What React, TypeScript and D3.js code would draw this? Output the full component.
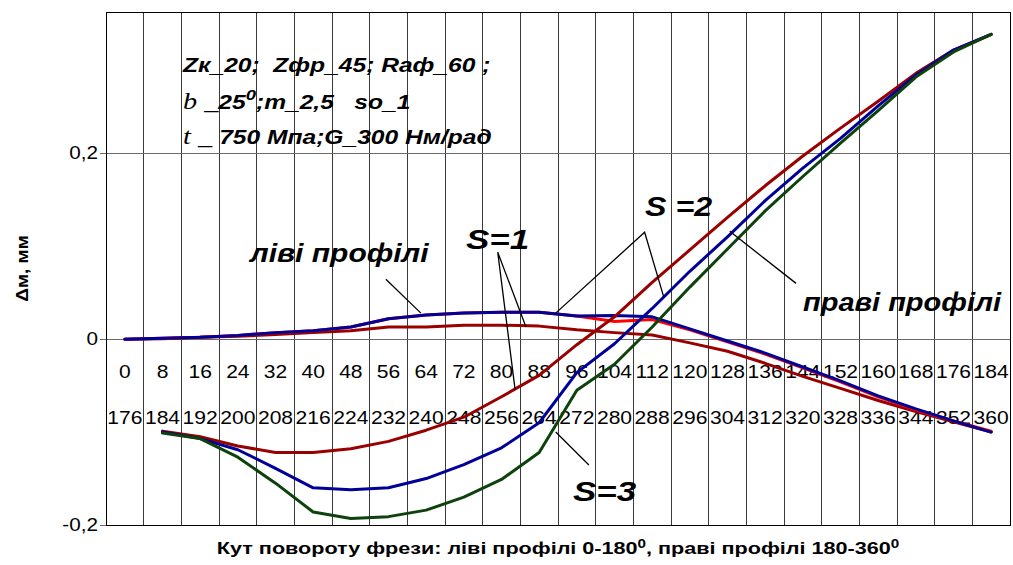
import * as d3 from "d3";
import type { ReactNode } from "react";

// x categories (upper row = left profiles, lower row = right profiles)
const topLabels = [0, 8, 16, 24, 32, 40, 48, 56, 64, 72, 80, 88, 96, 104, 112, 120, 128, 136, 144, 152, 160, 168, 176, 184];
const bottomLabels = [176, 184, 192, 200, 208, 216, 224, 232, 240, 248, 256, 264, 272, 280, 288, 296, 304, 312, 320, 328, 336, 344, 352, 360];

const yTicks = [-0.2, 0, 0.2];
const yTickLabels = ["-0,2", "0", "0,2"];

// left profiles, categories 0..184
const leftS1 = [0, 0.0005, 0.002, 0.003, 0.005, 0.007, 0.009, 0.013, 0.013, 0.015, 0.015, 0.014, 0.010, 0.007, 0.0045, -0.004, -0.013, -0.026, -0.040, -0.053, -0.066, -0.078, -0.089, -0.100];
const leftS2 = [0, 0.001, 0.002, 0.004, 0.007, 0.009, 0.013, 0.022, 0.026, 0.028, 0.029, 0.029, 0.025, 0.0255, 0.024, 0.011, -0.002, -0.015, -0.030, -0.045, -0.061, -0.075, -0.088, -0.100];
const leftS3 = [0, 0.001, 0.002, 0.004, 0.007, 0.009, 0.013, 0.022, 0.026, 0.028, 0.029, 0.029, 0.025, 0.019, 0.021, 0.010, -0.003, -0.016, -0.031, -0.046, -0.062, -0.076, -0.088, -0.099];

// right profiles, categories 8..184
const rightS1 = [-0.099, -0.105, -0.115, -0.122, -0.122, -0.118, -0.110, -0.098, -0.084, -0.062, -0.039, -0.006, 0.024, 0.061, 0.096, 0.131, 0.165, 0.197, 0.227, 0.256, 0.286, 0.311, 0.328];
const rightS2 = [-0.100, -0.107, -0.119, -0.139, -0.160, -0.162, -0.160, -0.150, -0.135, -0.117, -0.090, -0.036, -0.005, 0.033, 0.073, 0.110, 0.149, 0.184, 0.216, 0.251, 0.284, 0.311, 0.328];
const rightS3 = [-0.101, -0.107, -0.127, -0.155, -0.186, -0.193, -0.191, -0.184, -0.170, -0.151, -0.122, -0.055, -0.027, 0.013, 0.056, 0.097, 0.138, 0.175, 0.211, 0.246, 0.282, 0.309, 0.328];

const series = [
  { values: leftS1, start: 0, color: "#990000" },
  { values: leftS3, start: 0, color: "#ff0000" },
  { values: leftS2, start: 0, color: "#000099" },
  { values: rightS1, start: 1, color: "#990000" },
  { values: rightS2, start: 1, color: "#000099" },
  { values: rightS3, start: 1, color: "#0d420d" },
];

// pointer lines, [categoryIndex, value] pairs
const pointers: [number, number][][] = [
  [[6.93, 0.0645], [7.86, 0.028]],
  [[10.65, 0.013], [9.9, 0.0935], [10.36, -0.054]],
  [[11.44, 0.028], [13.8, 0.115], [14.31, 0.045]],
  [[16.06, 0.116], [17.82, 0.06]],
  [[11.44, -0.1], [12.32, -0.1355]],
];

const W = 1013;
const H = 565;
const margin = { left: 106, right: 3, top: 12, bottom: 40 };
const FONT = "'Liberation Sans', Arial, sans-serif";

// the original text is drawn wider than normal Arial, so stretch it sideways
function T(props: {
  x: number;
  y: number;
  sx?: number;
  size: number;
  anchor?: "start" | "middle" | "end";
  bold?: boolean;
  italic?: boolean;
  children: ReactNode;
}) {
  return (
    <text
      transform={`translate(${props.x},${props.y}) scale(${props.sx ?? 1.2},1)`}
      textAnchor={props.anchor ?? "start"}
      fontFamily={FONT}
      fontSize={props.size}
      fontWeight={props.bold ? "bold" : "normal"}
      fontStyle={props.italic ? "italic" : "normal"}
      xmlSpace="preserve"
    >
      {props.children}
    </text>
  );
}

export default function App() {
  const x = d3
    .scaleBand<number>()
    .domain(d3.range(topLabels.length))
    .range([margin.left, W - margin.right]);
  const bw = x.bandwidth();
  const cx = (i: number) => margin.left + bw * (i + 0.5);
  const y = d3.scaleLinear().domain([-0.2, 0.352]).range([H - margin.bottom, margin.top]);

  const x0 = margin.left;
  const x1 = W - margin.right;
  const y0 = margin.top;
  const y1 = H - margin.bottom;

  return (
    <div style={{ position: "absolute", left: 0, top: 0 }}>
      <svg width={W} height={H} style={{ display: "block", background: "#fff" }}>
        {/* vertical grid at band edges */}
        {d3.range(1, topLabels.length).map((i) => (
          <line key={"v" + i} x1={x(i)} x2={x(i)} y1={y0} y2={y1} stroke="#3a3a3a" strokeWidth={1} shapeRendering="crispEdges" />
        ))}
        {/* horizontal grid */}
        {yTicks.map((t) => (
          <line key={"h" + t} x1={x0 - 6} x2={x1} y1={y(t)} y2={y(t)} stroke="#6b6b6b" strokeWidth={1} shapeRendering="crispEdges" />
        ))}
        <rect x={x0} y={y0} width={x1 - x0} height={y1 - y0} fill="none" stroke="#000" strokeWidth={1} shapeRendering="crispEdges" />

        {/* y tick labels */}
        {yTicks.map((t, i) => (
          <T key={"yt" + t} x={x0 - 8} y={y(t) + 6} size={18} anchor="end" sx={1.15}>
            {yTickLabels[i]}
          </T>
        ))}

        {/* category labels */}
        {topLabels.map((d, i) => (
          <T key={"tl" + d} x={cx(i)} y={378} size={18} anchor="middle" sx={1.17}>
            {d}
          </T>
        ))}
        {bottomLabels.map((d, i) => (
          <T key={"bl" + d} x={cx(i)} y={424} size={18} anchor="middle" sx={1.17}>
            {d}
          </T>
        ))}

        {/* series */}
        {series.map((s, k) => (
          <path
            key={"s" + k}
            d={d3.line<number>().x((_, i) => cx(i + s.start)).y((d) => y(d))(s.values) ?? ""}
            fill="none"
            stroke={s.color}
            strokeWidth={3}
            strokeLinejoin="round"
            strokeLinecap="round"
          />
        ))}

        {/* pointers */}
        {pointers.map((p, k) => (
          <polyline
            key={"p" + k}
            points={p.map(([i, v]) => `${cx(i)},${y(v)}`).join(" ")}
            fill="none"
            stroke="#000"
            strokeWidth={1.3}
          />
        ))}

        {/* parameter block */}
        <T x={183} y={72} size={20} bold italic sx={1.23}>Zк_20;  Zфр_45; Rаф_60 ;</T>
        <T x={183} y={109} size={20} bold italic sx={1.23}>
          <tspan fontFamily="'Liberation Serif', serif" fontWeight="normal" fontSize={23}>b _</tspan>
          <tspan>25</tspan>
          <tspan dy={-9} fontSize={15}>0</tspan>
          <tspan dy={9}>;m_2,5   so_1</tspan>
        </T>
        <T x={183} y={144} size={20} bold italic sx={1.23}>
          <tspan fontFamily="'Liberation Serif', serif" fontWeight="normal" fontSize={23}>t _ </tspan>
          <tspan>750 Мпа;G_300 Нм/рад</tspan>
        </T>

        {/* curve labels */}
        <T x={250} y={262} size={25} bold italic sx={1.2}>ліві профілі</T>
        <T x={466} y={249} size={28} bold italic sx={1.25}>S=1</T>
        <T x={645} y={216} size={28} bold italic sx={1.15}>S =2</T>
        <T x={803} y={311} size={25} bold italic sx={1.16}>праві профілі</T>
        <T x={573} y={501} size={28} bold italic sx={1.25}>S=3</T>

        {/* axis titles */}
        <text
          transform={`translate(28,${(y0 + y1) / 2}) rotate(-90) scale(1.12,1)`}
          textAnchor="middle"
          fontFamily={FONT}
          fontWeight="bold"
          fontSize={17}
        >
          Δм, мм
        </text>
        <T x={(x0 + x1) / 2} y={554} size={17} bold anchor="middle" sx={1.27}>
          Кут повороту фрези: ліві профілі 0-180
          <tspan dy={-6} fontSize={12}>0</tspan>
          <tspan dy={6}>, праві профілі 180-360</tspan>
          <tspan dy={-6} fontSize={12}>0</tspan>
        </T>
      </svg>
    </div>
  );
}
